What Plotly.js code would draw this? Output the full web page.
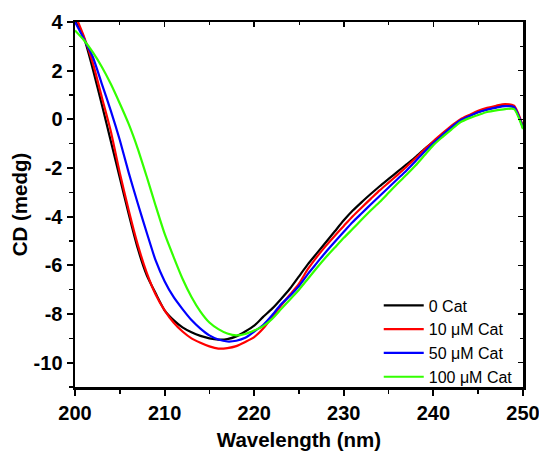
<!DOCTYPE html>
<html>
<head>
<meta charset="utf-8">
<script src="https://cdn.plot.ly/plotly-3.0.1.min.js"></script>
<style>html,body{margin:0;padding:0;background:#fff;}#chart{width:539px;height:451px;}</style>
</head>
<body>
<div id="chart"></div>
<script>
// Wavelength (nm)
const wavelength = [200,201,202,203,204,205,206,207,208,209,210,211,212,213,214,215,216,217,218,219,220,221,222,223,224,225,226,227,228,229,230,231,232,233,234,235,236,237,238,239,240,241,242,243,244,245,246,247,248,249,250];

const seriesNames = ["0 Cat", "10 \u03bcM Cat", "50 \u03bcM Cat", "100 \u03bcM Cat"];

const cd0 = [4.05,3.35,2.05,0.6,-0.9,-2.4,-3.9,-5.3,-6.4,-7.15,-7.85,-8.25,-8.55,-8.75,-8.9,-9.0,-9.05,-9.03,-8.92,-8.72,-8.48,-8.12,-7.78,-7.38,-6.95,-6.45,-5.95,-5.5,-5.05,-4.6,-4.15,-3.75,-3.4,-3.07,-2.75,-2.45,-2.15,-1.85,-1.55,-1.22,-0.92,-0.62,-0.32,-0.06,0.15,0.3,0.42,0.5,0.57,0.5,-0.32];
const cd10 = [4.3,3.4,2.3,0.9,-0.5,-2.2,-3.75,-5.15,-6.3,-7.2,-7.85,-8.35,-8.72,-9.0,-9.18,-9.33,-9.42,-9.4,-9.32,-9.15,-8.95,-8.6,-8.12,-7.65,-7.2,-6.75,-6.15,-5.65,-5.2,-4.78,-4.38,-3.98,-3.62,-3.27,-2.92,-2.6,-2.28,-1.95,-1.6,-1.24,-0.9,-0.58,-0.27,0.0,0.18,0.35,0.47,0.56,0.63,0.56,-0.29];
const cd50 = [4.0,3.3,2.55,1.45,0.35,-0.85,-2.2,-3.45,-4.65,-5.8,-6.65,-7.3,-7.8,-8.25,-8.6,-8.88,-9.05,-9.13,-9.1,-8.98,-8.72,-8.45,-8.05,-7.6,-7.25,-6.85,-6.35,-5.9,-5.45,-5.03,-4.62,-4.22,-3.86,-3.5,-3.15,-2.8,-2.45,-2.1,-1.72,-1.33,-0.97,-0.65,-0.33,-0.05,0.13,0.29,0.4,0.48,0.54,0.5,-0.35];
const cd100 = [3.65,3.25,2.75,2.15,1.45,0.65,-0.2,-1.2,-2.35,-3.55,-4.7,-5.65,-6.55,-7.3,-7.9,-8.35,-8.62,-8.8,-8.88,-8.82,-8.68,-8.5,-8.2,-7.8,-7.4,-7.0,-6.55,-6.1,-5.67,-5.27,-4.87,-4.5,-4.12,-3.75,-3.4,-3.02,-2.64,-2.28,-1.9,-1.48,-1.06,-0.73,-0.42,-0.12,0.05,0.18,0.3,0.37,0.42,0.42,-0.4];

const colors = ["#000000", "#ff0000", "#0000ff", "#33ff00"];

const xTickVals = [200,210,220,230,240,250];
const xTickText = ["200","210","220","230","240","250"];
const yTickVals = [-10,-8,-6,-4,-2,0,2,4];
const yTickText = ["-10","-8","-6","-4","-2","0","2","4"];

const allSeries = [cd0, cd10, cd50, cd100];
const traces = allSeries.map((ys, i) => ({
  x: wavelength, y: ys, type: "scatter", mode: "lines",
  name: seriesNames[i],
  line: {color: colors[i], width: 2.2, shape: "spline", smoothing: 0.6}
}));
traces.push({x: [], y: [], xaxis: "x2", yaxis: "y2", type: "scatter", mode: "lines", showlegend: false, hoverinfo: "skip"});

const tickFont = {family: "Arial, 'Liberation Sans', sans-serif", size: 20, color: "#000", weight: "bold"};
const titleFont = {family: "Arial, 'Liberation Sans', sans-serif", size: 20.5, color: "#000", weight: "bold"};

const layout = {
  width: 539, height: 451,
  margin: {l: 75, r: 16, t: 22, b: 64},
  paper_bgcolor: "#fff", plot_bgcolor: "#fff",
  showlegend: true,
  legend: {x: 0.678, y: 0.27, xanchor: "left", yanchor: "top", bgcolor: "rgba(0,0,0,0)", borderwidth: 0,
    font: {family: "Arial, 'Liberation Sans', sans-serif", size: 16, color: "#000"}, itemwidth: 40, tracegroupgap: 0},
  xaxis: {
    range: [200, 250], showgrid: false, zeroline: false,
    showline: true, linecolor: "#000", linewidth: 2.5,
    ticks: "outside", ticklen: 6, tickwidth: 2, tickcolor: "#000",
    tickvals: xTickVals, ticktext: xTickText, tickfont: tickFont, ticklabeloverflow: "allow",
    minor: {ticks: "outside", ticklen: 4, tickwidth: 1.5, tickcolor: "#000", dtick: 5, tick0: 200, showgrid: false},
    title: {text: "Wavelength (nm)", font: titleFont, standoff: 13}
  },
  yaxis: {
    range: [-11, 4], showgrid: false, zeroline: false,
    showline: true, linecolor: "#000", linewidth: 2.5,
    ticks: "outside", ticklen: 6, tickwidth: 2, tickcolor: "#000",
    tickvals: yTickVals, ticktext: yTickText, tickfont: tickFont, ticklabeloverflow: "allow",
    minor: {ticks: "outside", ticklen: 4, tickwidth: 1.5, tickcolor: "#000", dtick: 1, tick0: 0, showgrid: false},
    title: {text: "CD (medg)", font: titleFont, standoff: 1}
  },
  xaxis2: {
    overlaying: "x", side: "top", anchor: "y", range: [200, 250], showgrid: false, zeroline: false,
    showline: true, linecolor: "#000", linewidth: 2.5,
    ticks: "inside", ticklen: 5, tickwidth: 1.5, tickcolor: "#000",
    tickvals: xTickVals, showticklabels: false,
    minor: {ticks: "inside", ticklen: 3, tickwidth: 1, tickcolor: "#000", dtick: 5, tick0: 200, showgrid: false}
  },
  yaxis2: {
    overlaying: "y", side: "right", anchor: "x", range: [-11, 4], showgrid: false, zeroline: false,
    showline: true, linecolor: "#000", linewidth: 2.5,
    ticks: "inside", ticklen: 5, tickwidth: 1.5, tickcolor: "#000",
    tickvals: yTickVals, showticklabels: false,
    minor: {ticks: "inside", ticklen: 3, tickwidth: 1, tickcolor: "#000", dtick: 1, tick0: 0, showgrid: false}
  }
};

Plotly.newPlot("chart", traces, layout, {staticPlot: true, displayModeBar: false});
</script>
</body>
</html>
